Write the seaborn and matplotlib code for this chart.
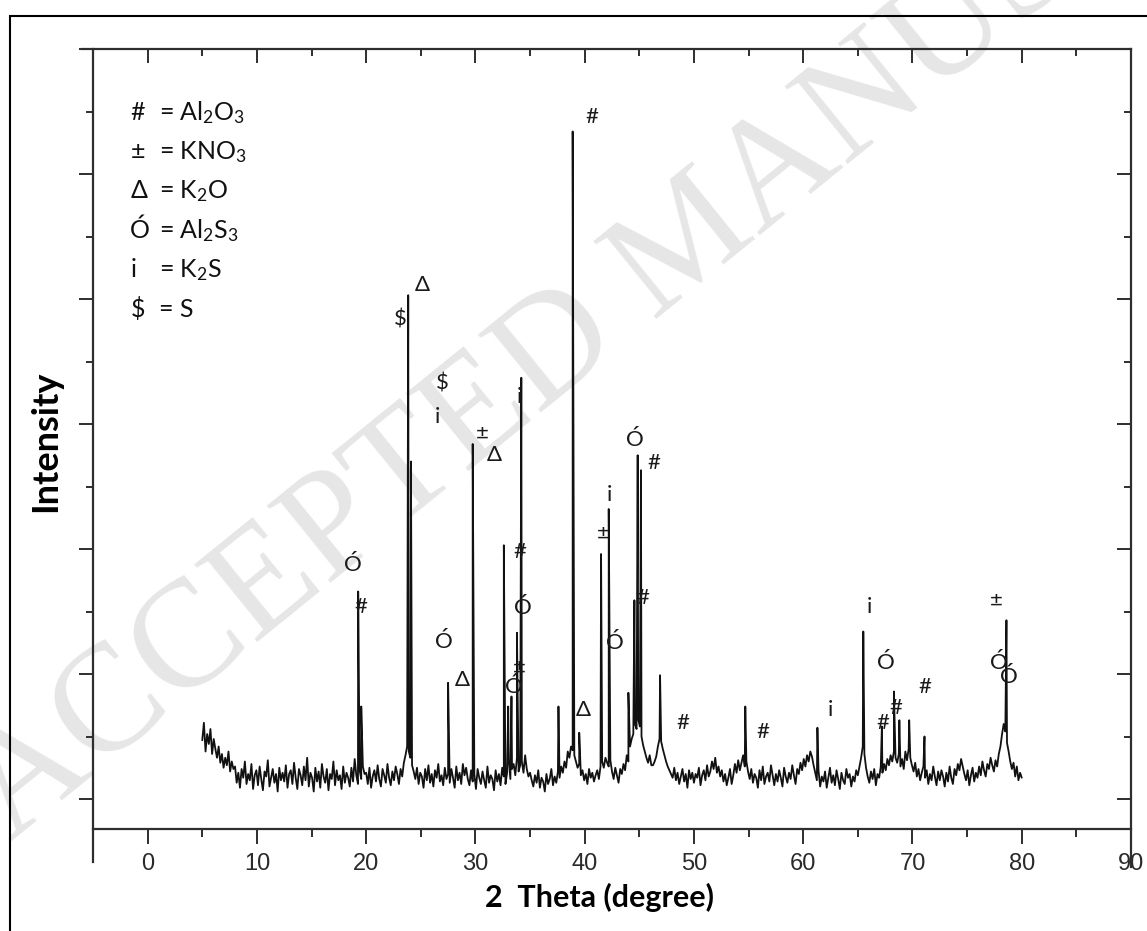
import numpy as np
import pandas as pd
import matplotlib
matplotlib.use("Agg")
import matplotlib.pyplot as plt
from matplotlib.patches import Rectangle
from matplotlib.ticker import MultipleLocator
import seaborn as sns

# ---- XRD scan: measured background counts, 5-80 deg in 0.15 deg steps ----
scan_start, scan_end = 5.0, 80.0
background = [
    470, 610, 380, 520, 440, 560, 360, 480, 400, 330, 420, 290, 360, 250, 330, 270, 380, 220, 300, 240,
    260, 130, 210, 90, 240, 170, 300, 120, 200, 150, 280, 80, 190, 230, 110, 260, 160, 70, 220, 180,
    310, 100, 170, 240, 130, 200, 60, 250, 150, 210,
    140, 270, 90, 200, 230, 120, 290, 170, 80, 240, 190, 110, 260, 150, 330, 100, 210, 170, 60, 250,
    140, 220, 90, 280, 180, 130, 240, 70, 200, 160, 300, 110, 230, 150, 190, 80, 260, 130, 210, 170,
    100, 250, 140, 320, 190, 120, 230, 160, 260, 200,
    210, 120, 250, 90, 180, 230, 140, 270, 160, 100, 240, 190, 130, 280, 170, 110, 220, 150, 260, 200,
    120, 240, 180, 290, 350, 420, 380, 330, 270, 220, 160, 250, 120, 210, 180, 90, 240, 150, 270, 130,
    200, 100, 230, 170, 280, 140, 190, 110, 250, 160,
    200, 130, 240, 170, 90, 260, 150, 210, 120, 280, 190, 250, 160, 110, 230, 140, 200, 80, 240, 170,
    120, 220, 150, 90, 260, 130, 190, 160, 70, 230, 140, 200, 110, 250, 180, 120, 210, 310, 160, 240,
    280, 190, 330, 220, 270, 300, 210, 350, 240, 180,
    210, 150, 100, 190, 130, 230, 90, 170, 140, 60, 200, 120, 160, 240, 110, 180, 130, 220, 170, 260,
    210, 300, 250, 380, 330, 420, 390, 350, 300, 250, 280, 190, 230, 150, 200, 120, 240, 170, 210, 140,
    190, 230, 160, 260, 300, 250, 330, 290, 260, 310,
    220, 160, 250, 190, 130, 240, 200, 280, 230, 350, 300, 420, 480, 520, 600, 560, 640, 580, 500, 430,
    380, 330, 290, 350, 270, 270, 300, 340, 420, 480, 460, 400, 350, 300, 260, 230, 200, 170, 250, 150,
    210, 120, 180, 240, 140, 200, 90, 230, 160, 210,
    130, 200, 170, 250, 110, 190, 230, 150, 270, 180, 220, 300, 240, 330, 210, 260, 180, 230, 140, 200,
    110, 170, 240, 120, 190, 280, 210, 310, 230, 290, 350, 260, 300, 220, 160, 240, 130, 200, 170, 90,
    230, 150, 260, 120, 180, 210, 140, 270, 190, 110,
    200, 140, 230, 170, 100, 250, 180, 130, 210, 160, 270, 190, 120, 240, 200, 290, 230, 320, 260, 350,
    300, 380, 340, 270, 210, 150, 230, 100, 180, 140, 220, 90, 170, 250, 130, 190, 110, 230, 160, 80,
    210, 150, 120, 240, 170, 200, 100, 180, 140, 230,
    190, 260, 330, 420, 360, 250, 180, 130, 220, 160, 240, 110, 200, 170, 260, 210, 280, 230, 320, 270,
    350, 300, 380, 330, 290, 360, 260, 320, 240, 380, 310, 400, 330, 270, 220, 290, 180, 240, 150, 210,
    260, 170, 230, 120, 200, 150, 260, 180, 110, 220,
    150, 230, 180, 100, 210, 140, 260, 170, 120, 240, 190, 280, 230, 320, 260, 200, 150, 230, 110, 190,
    250, 140, 210, 170, 260, 190, 300, 230, 180, 280, 240, 330, 270, 220, 310, 260, 360, 420, 520, 600,
    540, 450, 380, 300, 240, 290, 180, 260, 150, 210,
    170,
]

# ---- Reflections: 2-theta position and peak counts ----
peak_theta = [19.27, 19.55, 23.85, 24.10, 27.50, 29.75, 32.60, 33.00, 33.30, 33.80,
              34.20, 37.60, 38.90, 39.50, 41.50, 42.20, 44.00, 44.55, 44.85, 45.15,
              46.90, 54.70, 61.30, 65.50, 67.20, 68.30, 68.80, 69.70, 71.10, 78.60]
peak_counts = [1660, 740, 4030, 2700, 930, 2840, 2030, 740, 820, 1330,
               3370, 740, 5340, 530, 1960, 2320, 850, 1590, 2750, 2630,
               990, 740, 570, 1340, 580, 860, 630, 630, 500, 1430]

# ---- Phase marks placed over the reflections ----
mark_text = ["#", "Δ", "$", "$", "i", "±", "Δ", "i",
             "Ó", "#", "Ó", "Δ", "#", "Ó", "±", "Ó",
             "Δ", "±", "i", "Ó", "Ó", "#", "#", "#",
             "#", "i", "i", "Ó", "#", "#", "#", "±", "Ó", "Ó"]
mark_theta = [40.7, 25.1, 23.1, 27.0, 26.5, 30.6, 31.7, 34.0,
              18.8, 19.5, 27.1, 28.8, 34.1, 34.3, 34.0, 33.5,
              39.9, 41.7, 42.3, 42.8, 44.6, 46.3, 45.3, 49.0,
              56.3, 62.5, 66.1, 67.6, 67.3, 68.5, 71.1, 77.7, 77.9, 78.8]
mark_counts = [5456, 4112, 3832, 3328, 3056, 2928, 2752, 3216,
               1872, 1536, 1256, 952, 1976, 1528, 1056, 896,
               712, 2128, 2432, 1248, 2872, 2688, 1608, 608,
               536, 712, 1536, 1088, 608, 728, 896, 1592, 1088, 976]

# ---- Phase key ----
key_symbols = ["#", "±", "Δ", "Ó", "i", r"\$"]
key_phases = [r"Al$_\mathregular{2}$O$_\mathregular{3}$",
              r"KNO$_\mathregular{3}$",
              r"K$_\mathregular{2}$O",
              r"Al$_\mathregular{2}$S$_\mathregular{3}$",
              r"K$_\mathregular{2}$S",
              "S"]

x_ticks = [0, 10, 20, 30, 40, 50, 60, 70, 80, 90]

# ---- assemble the scan: background samples plus the reflection maxima ----
theta_bg = np.linspace(scan_start, scan_end, len(background))
scan = pd.concat([
    pd.DataFrame({"theta": theta_bg, "counts": background}),
    pd.DataFrame({"theta": peak_theta, "counts": peak_counts}),
]).sort_values("theta", kind="mergesort").reset_index(drop=True)

sns.set_style("white")
plt.rcParams["font.family"] = ["Lato", "DejaVu Sans"]
plt.rcParams["mathtext.default"] = "regular"

W, H = 1147, 931
fig = plt.figure(figsize=(W / 100, H / 100), dpi=100)
fig.patch.set_facecolor("white")
ax = fig.add_axes([93 / W, 1 - 829 / H, (1131 - 93) / W, (829 - 49) / H])
ax.set_facecolor("none")

# faint diagonal stamp behind the plot
fig.text(10 / W, 1 - 842 / H, "ACCEPTED MANUSCRIPT", rotation=39,
         rotation_mode="anchor", ha="left", va="baseline", fontsize=110,
         family="Liberation Serif", color="#e6e6e6", zorder=-5)

sns.lineplot(data=scan, x="theta", y="counts", ax=ax, color="#111111",
             linewidth=1.3, estimator=None, sort=False, legend=False)

ax.set_xlim(-5, 90)
ax.set_ylim(-240, 6000)

spine_c = "#2e2e2e"
for side in ["left", "right", "top", "bottom"]:
    ax.spines[side].set_visible(True)
    ax.spines[side].set_color(spine_c)
    ax.spines[side].set_linewidth(1.6)
ax.spines["left"].set_bounds(-504, 6000)
ax.spines["right"].set_bounds(-540, 6000)
ax.spines["top"].set_bounds(-6, 90)

ax.xaxis.set_major_locator(MultipleLocator(10))
ax.xaxis.set_minor_locator(MultipleLocator(5))
ax.yaxis.set_major_locator(MultipleLocator(1000))
ax.yaxis.set_minor_locator(MultipleLocator(500))
ax.set_xticks(x_ticks)
ax.set_xticklabels([str(t) for t in x_ticks])

ax.tick_params(axis="x", which="both", bottom=True, top=False, direction="out",
               color=spine_c, width=1.4, labelsize=17, labelcolor="#2a2a2a", pad=6)
ax.tick_params(axis="x", which="major", length=11)
ax.tick_params(axis="x", which="minor", length=6)
ax.tick_params(axis="y", which="both", left=True, right=False, direction="out",
               color=spine_c, width=1.4, labelleft=False)
ax.tick_params(axis="y", which="major", length=10)
ax.tick_params(axis="y", which="minor", length=5)
for lab in ax.get_xticklabels():
    lab.set_family("Liberation Sans")

# inward ticks on the top and right frame
top = ax.secondary_xaxis("top")
top.xaxis.set_major_locator(MultipleLocator(10))
top.xaxis.set_minor_locator(MultipleLocator(5))
top.tick_params(which="both", direction="in", labeltop=False, color=spine_c, width=1.4)
top.tick_params(which="major", length=10)
top.tick_params(which="minor", length=5)
top.spines["top"].set_visible(False)
right = ax.secondary_yaxis("right")
right.yaxis.set_major_locator(MultipleLocator(1000))
right.yaxis.set_minor_locator(MultipleLocator(500))
right.tick_params(which="both", direction="in", labelright=False, color=spine_c, width=1.4)
right.tick_params(which="major", length=10)
right.tick_params(which="minor", length=5)
right.spines["right"].set_visible(False)

ax.set_xlabel("2  Theta (degree)", fontsize=22, fontweight="bold", color="black")
ax.set_ylabel("Intensity", fontsize=26, fontweight="bold", color="black")
ax.xaxis.set_label_coords(0.488, -0.088)
ax.yaxis.set_label_coords(-0.046, 0.497)
ax.xaxis.label.set_va("center")
ax.yaxis.label.set_va("center")

# phase marks
for txt, tx, cy in zip(mark_text, mark_theta, mark_counts):
    ax.text(tx, cy, txt, ha="center", va="center", fontsize=16, color="#1a1a1a",
            family=["Lato", "DejaVu Sans"])

# phase key
y0, dy = 0.919, 0.0505
for i, (sym, phase) in enumerate(zip(key_symbols, key_phases)):
    ax.text(0.036, y0 - i * dy, sym, transform=ax.transAxes, ha="left", va="center",
            fontsize=18, color="#111111")
    ax.text(0.064, y0 - i * dy, "= " + phase, transform=ax.transAxes, ha="left",
            va="center", fontsize=18, color="#111111")

# outer frame
fig.add_artist(Rectangle((10 / W, -0.05), 1.2, 1 - 16 / H + 0.05,
                         transform=fig.transFigure, fill=False,
                         edgecolor="black", linewidth=1.5, zorder=10))

fig.savefig("out.png", dpi=100)
